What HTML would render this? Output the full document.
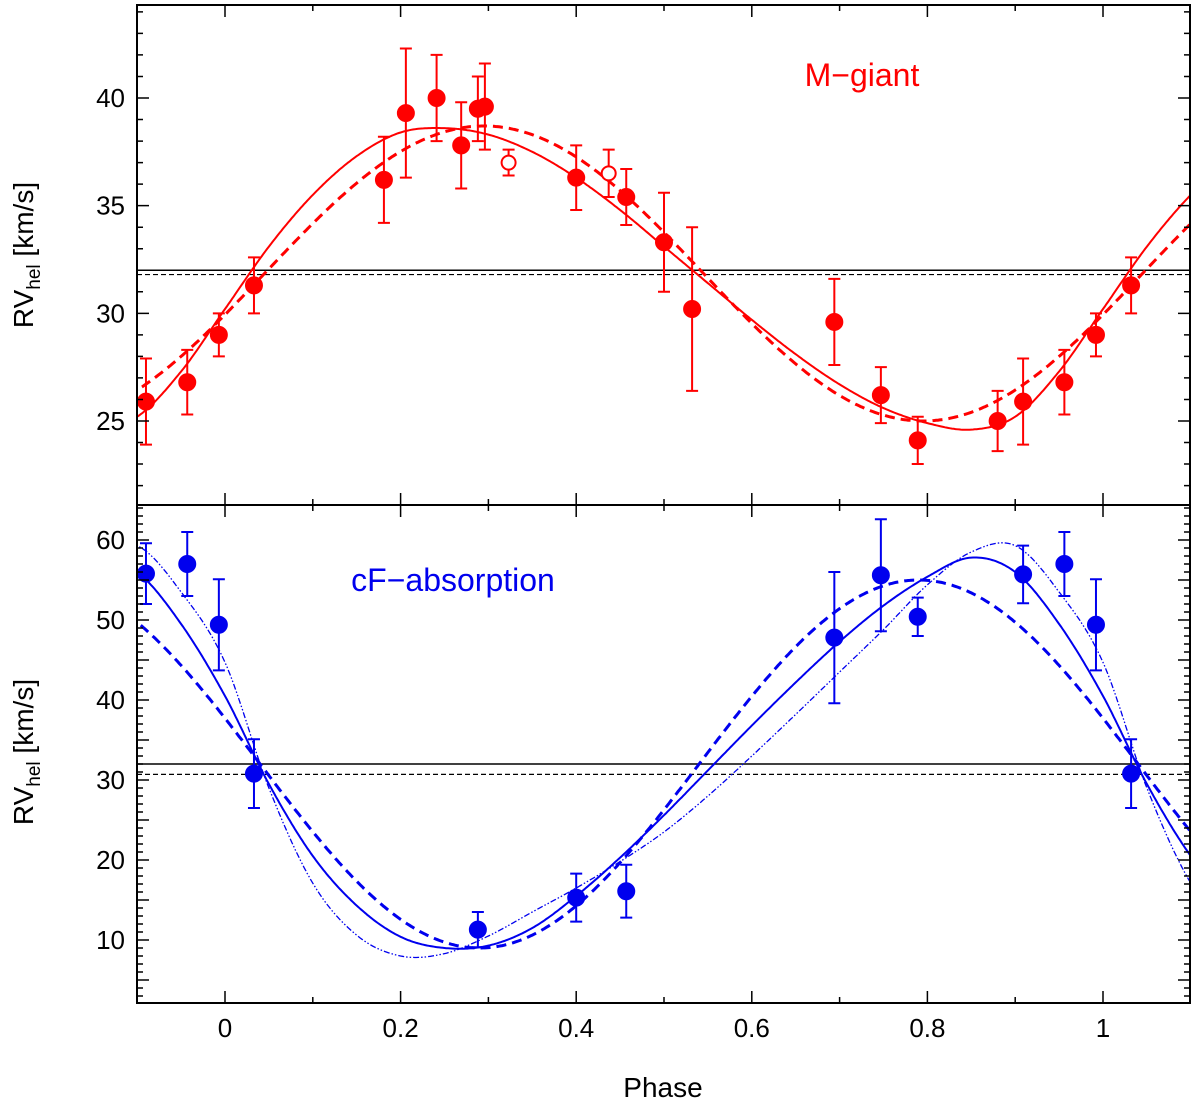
<!DOCTYPE html>
<html><head><meta charset="utf-8"><style>
body{margin:0;background:#fff}
svg{display:block}
text{font-family:"Liberation Sans",sans-serif}
</style></head><body>
<svg id="c" width="1200" height="1108" viewBox="0 0 1200 1108"></svg>
<script>
// ---- data ----
const topPhase=[-0.090,-0.043,-0.007,0.033,0.181,0.206,0.241,0.269,0.288,0.296,0.400,0.457,0.500,0.532,0.694,0.747,0.789,0.880,0.909,0.956,0.992,1.032];
const topRV=[25.9,26.8,29.0,31.3,36.2,39.3,40.0,37.8,39.5,39.6,36.3,35.4,33.3,30.2,29.6,26.2,24.1,25.0,25.9,26.8,29.0,31.3];
const topErr=[2.0,1.5,1.0,1.3,2.0,3.0,2.0,2.0,1.5,2.0,1.5,1.3,2.3,3.8,2.0,1.3,1.1,1.4,2.0,1.5,1.0,1.3];
const openPhase=[0.323,0.437];
const openRV=[37.0,36.5];
const openErr=[0.6,1.1];
const botPhase=[-0.090,-0.043,-0.007,0.033,0.288,0.400,0.457,0.694,0.747,0.789,0.909,0.956,0.992,1.032];
const botRV=[55.8,57.0,49.4,30.8,11.3,15.3,16.1,47.8,55.6,50.4,55.7,57.0,49.4,30.8];
const botErr=[3.8,4.0,5.7,4.3,2.2,3.0,3.3,8.2,7.0,2.4,3.6,4.0,5.7,4.3];
// model curves sampled over one period at phase 0,0.05,...,0.95
const topSolid=[30.2,33.1,35.5,37.3,38.4,38.6,38.3,37.5,36.3,34.8,33.1,31.4,29.7,28.1,26.7,25.6,24.9,24.6,25.2,27.3];
const topDashSine=[31.85,6.85,0.045]; // gamma, K, phase of ascending node
const botSolid=[40.5,29.5,20.5,14.3,10.4,9.0,9.3,11.5,15.5,20.3,25.6,31.2,36.8,42.2,47.3,51.8,55.4,57.8,56.0,49.5];
const botDashSine=[32,23,0.54];
const botDotted=[44.7,29,17.1,10.6,8.0,8.3,10.5,13.5,16.5,19.8,23.5,28,33,38.2,43.5,48.8,54.4,58.5,59.3,53.5];
const topGamma=[32.0,31.8];
const botGamma=[32.0,30.7];
const xTicks=[0,0.2,0.4,0.6,0.8,1];
const topYTicks=[25,30,35,40];
const botYTicks=[10,20,30,40,50,60];

const NS="http://www.w3.org/2000/svg";
const svg=document.getElementById('c');
function el(tag,attrs,parent){const e=document.createElementNS(NS,tag);for(const k in attrs)e.setAttribute(k,attrs[k]);(parent||svg).appendChild(e);return e;}
const L=137,R=1190,T1=5,B1=505,T2=505,B2=1003;
const px=p=>225+p*878;
const yTop=v=>98+(40-v)*21.533;
const yBot=v=>540+(60-v)*8;
const RED="#f00",BLUE="#0000ee";
function periodic(arr,p){const n=arr.length;let t=((p%1)+1)%1*n;const i=Math.floor(t),f=t-i;
 const g=k=>arr[((k%n)+n)%n];const p0=g(i-1),p1=g(i),p2=g(i+1),p3=g(i+2);
 return 0.5*((2*p1)+(-p0+p2)*f+(2*p0-5*p1+4*p2-p3)*f*f+(-p0+3*p1-3*p2+p3)*f*f*f);}
const sine=(par,p)=>par[0]+par[1]*Math.sin(2*Math.PI*(p-par[2]));
function curve(fn,ys,attrs,name,g){let d="";for(let p=-0.11;p<=1.1001;p+=0.002){d+=(d?"L":"M")+px(p).toFixed(1)+","+ys(fn(p)).toFixed(1);}
 const e=el('path',Object.assign({d:d,fill:'none'},attrs),g);
 
 }
function panel(T,B,name){
 const g=el('g',{});
 
 
 const cp=el('clipPath',{id:name+'-clip'},g);el('rect',{x:L,y:T,width:R-L,height:B-T},cp);
 const inner=el('g',{'clip-path':'url(#'+name+'-clip)'},g);
 return {g,inner};}
// top panel
const P1=panel(T1,B1,'top-panel');
el('line',{x1:L,x2:R,y1:yTop(topGamma[0]),y2:yTop(topGamma[0]),stroke:'#000','stroke-width':1.5},P1.inner);
el('line',{x1:L,x2:R,y1:yTop(topGamma[1]),y2:yTop(topGamma[1]),stroke:'#000','stroke-width':1.2,'stroke-dasharray':'5,3'},P1.inner);
curve(p=>periodic(topSolid,p),yTop,{stroke:RED,'stroke-width':2},'top-solid-fit',P1.inner);
curve(p=>sine(topDashSine,p),yTop,{stroke:RED,'stroke-width':3,'stroke-dasharray':'10,6'},'top-dashed-fit',P1.inner);
function points(ph,rv,er,ys,col,open,g,name){for(let i=0;i<ph.length;i++){const x=px(ph[i]),y=ys(rv[i]),y1=ys(rv[i]+er[i]),y2=ys(rv[i]-er[i]);
 const gg=el('g',{},g);
 
 
 el('path',{d:`M${x},${y1}V${y2}M${x-6},${y1}H${x+6}M${x-6},${y2}H${x+6}`,stroke:col,'stroke-width':2},gg);
 el('circle',{cx:x,cy:y,r:open?7:8,fill:open?'#fff':col,stroke:col,'stroke-width':2},gg);}}
points(topPhase,topRV,topErr,yTop,RED,false,P1.inner,'m-giant-point');
points(openPhase,openRV,openErr,yTop,RED,true,P1.inner,'m-giant-open-point');
// bottom panel
const P2=panel(T2,B2,'bottom-panel');
el('line',{x1:L,x2:R,y1:yBot(botGamma[0]),y2:yBot(botGamma[0]),stroke:'#000','stroke-width':1.5},P2.inner);
el('line',{x1:L,x2:R,y1:yBot(botGamma[1]),y2:yBot(botGamma[1]),stroke:'#000','stroke-width':1.2,'stroke-dasharray':'5,3'},P2.inner);
curve(p=>periodic(botSolid,p),yBot,{stroke:BLUE,'stroke-width':2},'cf-solid-fit',P2.inner);
curve(p=>sine(botDashSine,p),yBot,{stroke:BLUE,'stroke-width':3,'stroke-dasharray':'10,6'},'cf-dashed-fit',P2.inner);
curve(p=>periodic(botDotted,p),yBot,{stroke:BLUE,'stroke-width':1.3,'stroke-dasharray':'6,2,1.5,2,1.5,2'},'cf-dashdot-fit',P2.inner);
points(botPhase,botRV,botErr,yBot,BLUE,false,P2.inner,'cf-point');
// frames & ticks
function frame(T,B,ys,yt,lo,hi){
 el('rect',{x:L,y:T,width:R-L,height:B-T,fill:'none',stroke:'#000','stroke-width':2});
 let d="";
 for(let v=Math.ceil(lo);v<=hi;v++){const y=ys(v);if(y<T||y>B)continue;const len=(v%5===0)?12:6;d+=`M${L},${y}h${len}M${R},${y}h${-len}`;}
 for(const p of xTicks){const x=px(p);d+=`M${x},${B}v-12M${x},${T}v12`;}
 for(let p=-0.1;p<=1.1;p+=0.1){const x=px(p);if(x<L||x>R)continue;d+=`M${x},${B}v-6M${x},${T}v6`;}
 el('path',{d:d,stroke:'#000','stroke-width':1.5,fill:'none'});
 for(const v of yt){const t=el('text',{x:L-12,y:ys(v)+9,'text-anchor':'end','font-size':26});t.textContent=v;
  
  }}
frame(T1,B1,yTop,topYTicks,21,44);
frame(T2,B2,yBot,botYTicks,3,64);
for(const p of xTicks){const t=el('text',{x:px(p),y:1037,'text-anchor':'middle','font-size':26});t.textContent=p;
 
 }
function ylabel(cy,name){const t=el('text',{transform:`translate(33,${cy}) rotate(-90)`,'text-anchor':'middle','font-size':28});
 t.innerHTML='RV<tspan font-size="19" dy="7">hel</tspan><tspan dy="-7"> [km/s]</tspan>';
 
 }
ylabel(255,'top-y-axis-title');ylabel(752,'bottom-y-axis-title');
const xl=el('text',{x:663,y:1097,'text-anchor':'middle','font-size':28});xl.textContent='Phase';


const l1=el('text',{x:862,y:86,'text-anchor':'middle','font-size':32,fill:RED});l1.textContent='M\u2212giant';


const l2=el('text',{x:453,y:591,'text-anchor':'middle','font-size':32,fill:BLUE});l2.textContent='cF\u2212absorption';


</script>
</body></html>
